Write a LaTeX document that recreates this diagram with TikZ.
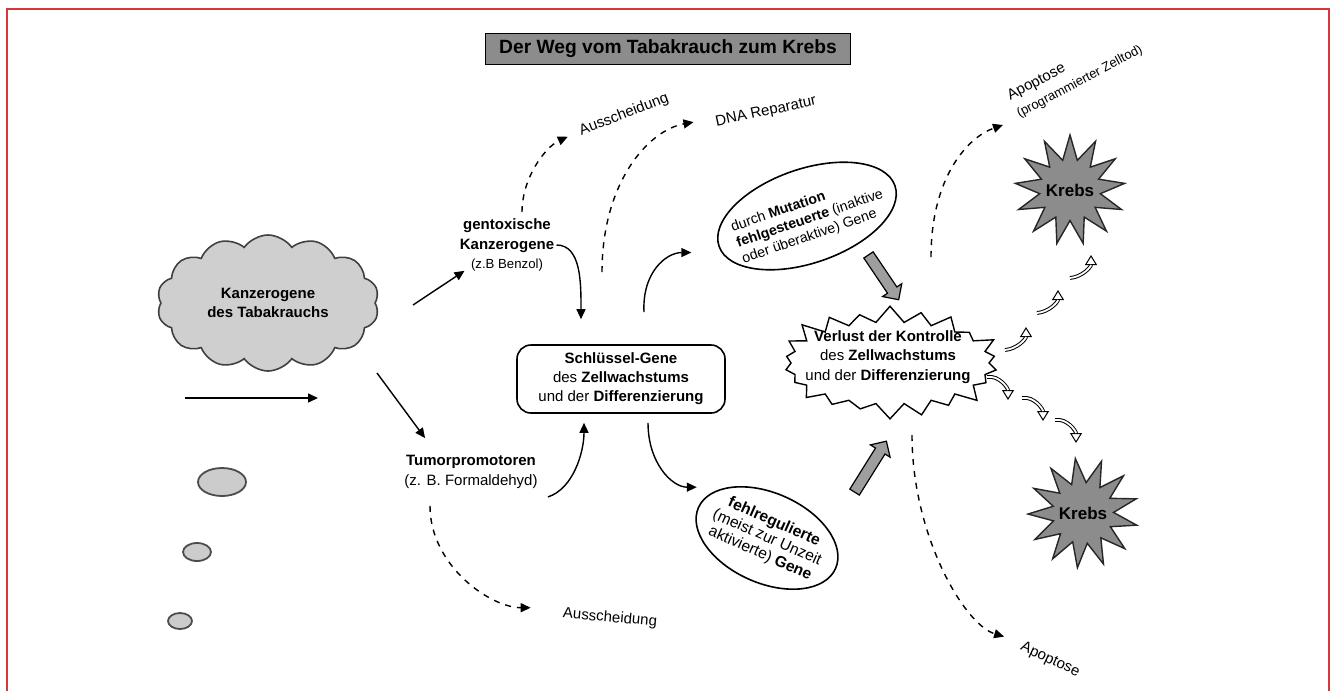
\documentclass[tikz,border=0pt]{standalone}
\usepackage{fontspec}
\setmainfont{Liberation Sans}
\usetikzlibrary{shapes.geometric,shapes.symbols,shapes.arrows,arrows.meta,calc}

\definecolor{framered}{RGB}{215,55,60}

\tikzset{
    txt/.style={font=\fontsize{7.5}{9.8}\selectfont, align=center, inner sep=1pt},
    arr/.style={line width=0.7pt, -{Triangle[length=5pt,width=4.5pt]}},
    darr/.style={arr, dashed},
    oval/.style={ellipse, draw, line width=0.8pt, inner sep=0pt},
    smoke/.style={cloud, cloud ignores aspect, draw=black!75, fill=black!19, line width=0.8pt,
        cloud puffs=14, cloud puff arc=110, minimum width=111pt, minimum height=68pt,
        font=\bfseries\fontsize{7.5}{9.4}\selectfont, align=center},
    burst/.style={starburst, draw, fill=white, line width=0.7pt, starburst points=22,
        starburst point height=9pt, random starburst=17},
    krebs/.style={star, draw=black!85, fill=black!45, line width=0.7pt, star points=13,
        star point ratio=1.8, inner sep=0pt, minimum size=55pt},
    krebstxt/.style={font=\bfseries\fontsize{8.5}{10}\selectfont, inner sep=0pt},
    blockarr/.style={single arrow, draw, fill=black!38, line width=0.6pt, inner sep=2.5pt,
        minimum width=11pt, single arrow head extend=3pt},
    curly/.style={line width=1.9pt, -{Triangle[open, fill=white, line width=0.5pt, length=5pt, width=6pt]},
        postaction={draw=white, line width=0.9pt, shorten >=5pt, -}},
    bubble/.style={draw=black!70, fill=black!20, line width=0.9pt},
}

\begin{document}
\begin{tikzpicture}[x=0.5pt,y=-0.5pt]
    \useasboundingbox (0,0) rectangle (1337,691);
    \draw[framered, line width=0.8pt] (7,691) -- (7,9) -- (1329,9) -- (1329,691);

    % title
    \node[draw, line width=0.8pt, fill=black!45, minimum width=182.5pt, minimum height=15pt,
        font=\bfseries\fontsize{9.6}{11}\selectfont] (title) at (668,49) {Der Weg vom Tabakrauch zum Krebs};

    % smoke and bubbles
    \node[smoke] (cloud) at (268,303) {Kanzerogene\\des Tabakrauchs};
    \draw[bubble] (222,482) ellipse (24 and 14);
    \draw[bubble] (197,552) ellipse (14 and 9);
    \draw[bubble] (180,621) ellipse (12 and 8);

    % carcinogens
    \node[txt] (gentox) at (507,245) {\textbf{gentoxische}\\\textbf{Kanzerogene}\\{\fontsize{6.6}{8}\selectfont(z.B Benzol)}};
    \node[txt] (tumor) at (471,472) {\textbf{Tumorpromotoren}\\(z. B. Formaldehyd)};
    \node[txt, draw, rounded corners=7pt, line width=0.8pt, minimum width=104pt, minimum height=34pt,
        font=\fontsize{7.5}{9.5}\selectfont] (schl) at (621,379)
        {\textbf{Schlüssel-Gene}\\des \textbf{Zellwachstums}\\und der \textbf{Differenzierung}};

    \node[txt, rotate=21] (aus1) at (624,115) {Ausscheidung};
    \node[txt, rotate=12] (dna) at (766,112) {DNA Reparatur};
    \node[txt, rotate=-5] (aus2) at (610,618) {Ausscheidung};
    \node[txt, rotate=28, align=left, anchor=west] (apo1) at (1011,107)
        {Apoptose\\{\fontsize{6.5}{8}\selectfont(programmierter Zelltod)}};
    \node[txt, rotate=-25] (apo2) at (1050,660) {Apoptose};

    % genes
    \node[oval, rotate=19, minimum width=93pt, minimum height=47pt] (mut) at (807,216) {};
    \node[txt, rotate=19, align=left, font=\fontsize{7.1}{8.4}\selectfont] (muttxt) at ($(mut)+(3,3)$)
        {durch \textbf{Mutation}\\\textbf{fehlgesteuerte} (inaktive\\oder überaktive) Gene};
    \node[oval, rotate=-24, minimum width=75pt, minimum height=45pt] (fehl) at (767,538) {};
    \node[txt, rotate=-24, font=\fontsize{7.8}{8.6}\selectfont] (fehltxt) at (fehl)
        {\textbf{fehlregulierte}\\(meist zur Unzeit\\aktivierte) \textbf{Gene}};

    % loss of control
    \node[burst, minimum width=117pt, minimum height=59pt] (verl) at (890,363) {};
    \node[txt] (verltxt) at (888,357)
        {\textbf{Verlust der Kontrolle}\\des \textbf{Zellwachstums}\\und der \textbf{Differenzierung}};

    % cancer
    \node[krebs] (k1) at (1070,190) {};
    \node[krebstxt] (k1txt) at (k1) {Krebs};
    \node[krebs, shape border rotate=8] (k2) at (1083,513) {};
    \node[krebstxt] (k2txt) at (k2) {Krebs};

    \node[blockarr, rotate=-56, minimum height=27pt] (ba1) at (882,275) {};
    \node[blockarr, rotate=58, minimum height=30pt] (ba2) at (869,469) {};

    % arrows
    \coordinate (c1) at (413,305);
    \coordinate (c2) at (377,373);
    \coordinate (c3) at (185,398);
    \coordinate (c4) at (318,398);
    \draw[arr] (c1) -- ($(gentox.south west)+(7,-3)$);
    \draw[arr] (c2) -- ($(tumor.north west)+(23,-15)$);
    \draw[arr] (c3) -- (c4);

    \draw[arr] (gentox.east) .. controls +(25,0) and +(0,-35) .. ($(schl.north)+(-40,-25)$);
    \draw[arr] ($(schl.north)+(23,-32)$) .. controls +(-2,-40) and +(-25,0) .. ($(mut.west)+(-27,6)$);
    \draw[arr] ($(tumor.south east)+(8,6)$) .. controls +(25,-8) and +(0,30) .. ($(schl.south)+(-37,9)$);
    \draw[arr] ($(schl.south)+(27,9)$) .. controls +(0,40) and +(-25,0) .. ($(fehl.west)+(-1,-20)$);

    \draw[darr] ($(gentox.north)+(15,-4)$) .. controls +(0,-35) and +(-22,10) .. ($(aus1.west)+(-10,4)$);
    \draw[darr] ($(schl.north)+(-19,-72)$) .. controls +(0,-90) and +(-45,8) .. ($(dna.west)+(-20,-1)$);
    \draw[darr] ($(tumor.south)+(-41,15)$) .. controls +(0,60) and +(-40,0) .. ($(aus2.west)+(-30,-6)$);
    \draw[darr] ($(verl)+(41,-106)$) .. controls +(0,-80) and +(-35,12) .. ($(apo1.west)+(-8,18)$);
    \draw[darr] ($(verl)+(22,72)$) .. controls +(0,100) and +(-40,-12) .. ($(apo2.west)+(-15,-9)$);

    % growth steps
    \foreach \x/\y in {1005/350, 1037/313, 1070/278}{
            \draw[curly] (\x,\y) .. controls +(12,-1) and +(0,12) .. +(21,-23);
        }
    \foreach \x/\y in {987/377, 1022/398, 1055/420}{
            \draw[curly] (\x,\y) .. controls +(12,-2) and +(0,-12) .. +(21,23);
        }
\end{tikzpicture}
\end{document}
